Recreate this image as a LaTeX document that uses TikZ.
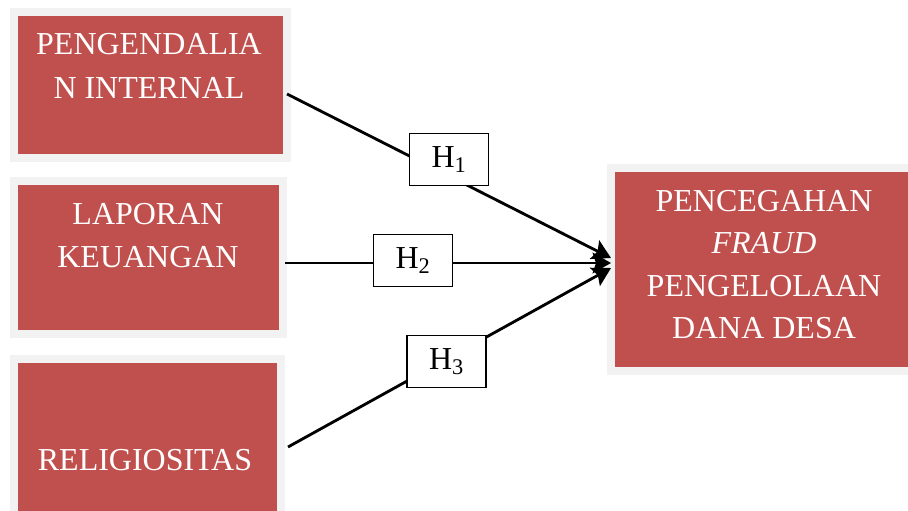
\documentclass[tikz,border=0pt]{standalone}
\usepackage{fontspec}
\setmainfont{Liberation Serif}
\usetikzlibrary{arrows.meta}
\definecolor{boxred}{RGB}{192,80,77}
\definecolor{framegray}{RGB}{242,242,242}
\begin{document}
\begin{tikzpicture}[x=0.03cm, y=-0.03cm,
            varbox/.style={rectangle, fill=boxred, draw=framegray, line width=0.24cm},
            vartext/.style={text=white, align=center, inner sep=0pt, font=\fontsize{27.3}{37}\selectfont},
            hyp/.style={rectangle, draw, fill=white, line width=0.045cm, minimum width=2.37cm, minimum height=1.55cm, inner sep=0pt, font=\fontsize{27.3}{34}\selectfont},
            link/.style={line width=0.085cm, -{Stealth[length=0.55cm, width=0.62cm, inset=0.1cm]}}
        ]
        \path[use as bounding box, clip] (0,0) rectangle (908,510);

        % Variable boxes on the left and the dependent box on the right
        \node[varbox, minimum width=8.19cm, minimum height=4.38cm] (pi) at (150.5,85) {};
        \node[varbox, minimum width=8.07cm, minimum height=4.59cm] (lk) at (148.5,257.5) {};
        \node[varbox, minimum width=8.01cm, minimum height=4.83cm] (rel) at (147.5,439.5) {};
        \node[varbox, minimum width=9.15cm, minimum height=6.09cm] (pf) at (763.5,269.5) {};

        \node[vartext] (pitext) at (149,66) {PENGENDALIA\\N INTERNAL};
        \node[vartext] (lktext) at (148,235.5) {LAPORAN\\KEUANGAN};
        \node[vartext] (reltext) at (145,460) {RELIGIOSITAS};
        \node[vartext, font=\fontsize{27.3}{36}\selectfont] (pftext) at (764,264.5)
            {PENCEGAHAN\\\textit{FRAUD}\\PENGELOLAAN\\DANA DESA};

        % Start and end points of the three paths
        \coordinate (s1) at (287,94);
        \coordinate (s2) at (285,263);
        \coordinate (s3) at (288,447);
        \coordinate (t1) at (611,258);
        \coordinate (t2) at (611,263);
        \coordinate (t3) at (611,268);

        \foreach \n in {1,2,3} {
                \draw[link] (s\n) -- (t\n);
            }

        % Hypothesis labels sitting on the paths
        \node[hyp] (h1) at (449,159.5) {H\textsubscript{1}};
        \node[hyp] (h2) at (413,260.5) {H\textsubscript{2}};
        \node[hyp] (h3) at (446.5,361.5) {H\textsubscript{3}};
    \end{tikzpicture}
\end{document}
